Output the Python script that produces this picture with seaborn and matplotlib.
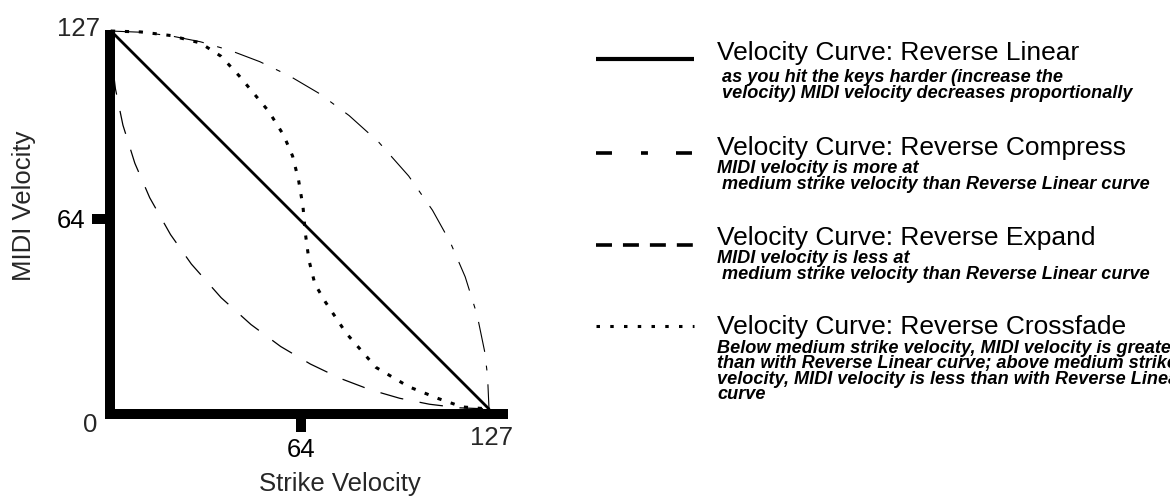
import matplotlib
matplotlib.use("Agg")
import matplotlib.pyplot as plt
import seaborn as sns

# ---------------- data ----------------
linear_x = [0, 127]
linear_y = [127, 0]

compress_x = [0, 10, 20, 30, 40, 50, 60, 70, 80, 90, 100, 108, 114, 119, 123, 125.5, 126.5, 127]
compress_y = [127, 126.6, 125.4, 123.4, 120.5, 116.7, 111.9, 106, 98.6, 89.6, 78.3, 66.8, 56, 44.4, 31.6, 19.5, 11.3, 0]

expand_x = [0, 0.5, 1.5, 4, 8, 13, 20, 27, 37, 47, 57, 67, 77, 87, 97, 107, 117, 127]
expand_y = [127, 115.7, 107.5, 95.4, 82.6, 71, 58.6, 48.7, 37.4, 28.4, 21, 15.1, 10.3, 6.5, 3.6, 1.6, 0.4, 0]

crossfade_x = [0, 10, 20, 30, 37, 43, 48, 53, 58, 61, 63, 64.5, 65.3, 66.5, 68.5, 72, 79, 89, 100, 110, 118, 127]
crossfade_y = [127, 126.7, 125.5, 123, 118.5, 112, 106, 100, 92, 85, 77, 68, 59, 50, 42, 36, 25.5, 14, 7.5, 3.5, 0.7, 0]

tick_values = [64]
tick_labels = ["64"]
axis_min_label = "0"
axis_max_label = "127"

legend_titles = [
    "Velocity Curve: Reverse Linear",
    "Velocity Curve: Reverse Compress",
    "Velocity Curve: Reverse Expand",
    "Velocity Curve: Reverse Crossfade",
]
legend_notes = [
    [" as you hit the keys harder (increase the",
     " velocity) MIDI velocity decreases proportionally"],
    ["MIDI velocity is more at",
     " medium strike velocity than Reverse Linear curve"],
    ["MIDI velocity is less at",
     " medium strike velocity than Reverse Linear curve"],
    ["Below medium strike velocity, MIDI velocity is greater",
     "than with Reverse Linear curve; above medium strike",
     "velocity, MIDI velocity is less than with Reverse Linear",
     "curve"],
]

# ---------------- style ----------------
sns.set_style("white")
plt.rcParams["font.family"] = ["Liberation Sans", "DejaVu Sans"]
plt.rcParams["lines.scale_dashes"] = False

W, H = 1170, 497
fig = plt.figure(figsize=(W / 100, H / 100), dpi=100)

# main axes (pixel layout: left 110, right 503, top 35, bottom 414)
ax = fig.add_axes([110 / W, (H - 414) / H, 393 / W, 379 / H])
ax.set_xlim(-0.34, 131.7)
ax.set_ylim(-1.68, 125.67)

styles = [
    (linear_x, linear_y, dict(lw=2.0, linestyle="-")),
    (compress_x, compress_y, dict(lw=0.8, linestyle=(0, (22, 10, 3.5, 10)))),
    (expand_x, expand_y, dict(lw=0.9, linestyle=(0, (17, 12)))),
    (crossfade_x, crossfade_y, dict(lw=2.2, linestyle=(0, (3.0, 7.0)))),
]
for xs, ys, kw in styles:
    sns.lineplot(x=xs, y=ys, ax=ax, color="black", sort=False,
                 estimator=None, clip_on=False, **kw)

sns.despine(ax=ax)
for side in ("left", "bottom"):
    ax.spines[side].set_linewidth(7.2)
    ax.spines[side].set_color("black")

ax.set_xticks(tick_values)
ax.set_xticklabels(tick_labels)
ax.set_yticks(tick_values)
ax.set_yticklabels(tick_labels)
ax.tick_params(axis="both", direction="out", length=13, width=7.2,
               color="black", labelsize=18.5, labelcolor="black",
               bottom=True, left=True)
ax.tick_params(axis="x", pad=4)
ax.tick_params(axis="y", pad=5)

ax.text(-3.7, 127.7, axis_max_label, ha="right", va="center", fontsize=18.5, clip_on=False)
ax.text(-7.1, -5.4, axis_min_label, ha="center", va="center", fontsize=18.5, clip_on=False)
ax.text(127.7, -9.6, axis_max_label, ha="center", va="center", fontsize=18.5, clip_on=False)

ax.set_xlabel("Strike Velocity", fontsize=18.5)
ax.set_ylabel("MIDI Velocity", fontsize=18.5)
ax.xaxis.set_label_coords((339.5 - 110) / 393, (414 - 472) / 379)
ax.yaxis.set_label_coords((36 - 110) / 393, (414 - 206) / 379)

# ---------------- legend (pixel coordinates overlay) ----------------
lg = fig.add_axes([0, 0, 1, 1])
lg.set_xlim(0, W)
lg.set_ylim(H, 0)
lg.axis("off")

key_styles = [
    dict(y=58.5, lw=3.0, ls="-"),
    dict(y=153, lw=2.6, ls=(0, (11.5, 20.9, 5.0, 20.2))),
    dict(y=245, lw=2.6, ls=(0, (11.5, 7.9))),
    dict(y=326, lw=2.2, ls=(0, (2.5, 7.4))),
]
title_base = [60, 155, 245, 334]
note_base = [82, 173, 263, 353]
note_step = [16, 16, 16, 15.3]
for i, ks in enumerate(key_styles):
    lg.plot([596, 694], [ks["y"], ks["y"]], color="black", lw=ks["lw"],
            linestyle=ks["ls"], solid_capstyle="butt", dash_capstyle="butt")
    lg.text(717, title_base[i], legend_titles[i], fontsize=19,
            ha="left", va="baseline", color="black")
    for j, line in enumerate(legend_notes[i]):
        lg.text(717, note_base[i] + note_step[i] * j, line, fontsize=13.1,
                fontweight="bold", fontstyle="italic",
                ha="left", va="baseline", color="black")

fig.savefig("out.png", dpi=100)
